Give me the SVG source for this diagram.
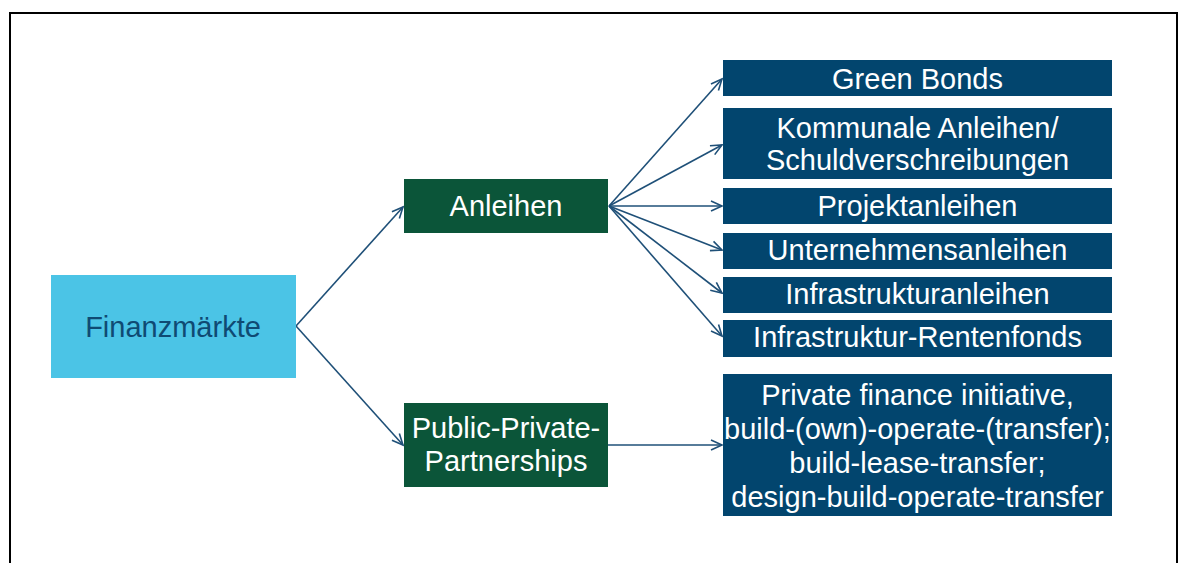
<svg xmlns="http://www.w3.org/2000/svg" width="1184" height="563" viewBox="0 0 1184 563">
<defs>
<style>
.t{font-family:"Liberation Sans",Arial,sans-serif;font-size:29px;text-anchor:middle;fill:#ffffff}
.blue{fill:#02456e}
.green{fill:#0b5539}
.c{fill:none;stroke:#1f5078;stroke-width:1.6}
</style>
<marker id="ah" markerUnits="userSpaceOnUse" markerWidth="14" markerHeight="14" refX="12" refY="6" orient="auto" viewBox="0 0 14 12">
<path d="M1,1 L12,6 L1,11" fill="none" stroke="#1f5078" stroke-width="1.6"/>
</marker>
</defs>
<rect width="1184" height="563" fill="#ffffff"/>
<path d="M10,570 L10,13 L1177,13 L1177,570" fill="none" stroke="#000000" stroke-width="2"/>
<g id="connectors">
<line class="c" x1="296" y1="326" x2="403" y2="207" marker-end="url(#ah)"/>
<line class="c" x1="296" y1="326" x2="403" y2="445" marker-end="url(#ah)"/>
<line class="c" x1="609" y1="206" x2="722" y2="79" marker-end="url(#ah)"/>
<line class="c" x1="609" y1="206" x2="722" y2="145" marker-end="url(#ah)"/>
<line class="c" x1="609" y1="206" x2="722" y2="206" marker-end="url(#ah)"/>
<line class="c" x1="609" y1="206" x2="722" y2="250" marker-end="url(#ah)"/>
<line class="c" x1="609" y1="206" x2="722" y2="293" marker-end="url(#ah)"/>
<line class="c" x1="609" y1="206" x2="722" y2="336" marker-end="url(#ah)"/>
<line class="c" x1="608" y1="445" x2="722" y2="445" marker-end="url(#ah)"/>
</g>
<g id="finanzmaerkte">
<rect x="51" y="275" width="245" height="103" fill="#4bc4e6"/>
<text class="t" x="173" y="337" style="fill:#0f4a73">Finanzmärkte</text>
</g>
<g id="anleihen">
<rect class="green" x="404" y="179" width="204" height="54"/>
<text class="t" x="506" y="216">Anleihen</text>
</g>
<g id="ppp">
<rect class="green" x="404" y="403" width="204" height="84"/>
<text class="t" x="506" y="438">Public-Private-</text>
<text class="t" x="506" y="471">Partnerships</text>
</g>
<g id="green-bonds">
<rect class="blue" x="723" y="60" width="389" height="36"/>
<text class="t" x="917.5" y="89">Green Bonds</text>
</g>
<g id="kommunale">
<rect class="blue" x="723" y="108" width="389" height="71"/>
<text class="t" x="917.5" y="138">Kommunale Anleihen/</text>
<text class="t" x="917.5" y="170">Schuldverschreibungen</text>
</g>
<g id="projektanleihen">
<rect class="blue" x="723" y="188" width="389" height="36"/>
<text class="t" x="917.5" y="216">Projektanleihen</text>
</g>
<g id="unternehmensanleihen">
<rect class="blue" x="723" y="233" width="389" height="36"/>
<text class="t" x="917.5" y="260">Unternehmensanleihen</text>
</g>
<g id="infrastrukturanleihen">
<rect class="blue" x="723" y="277" width="389" height="36"/>
<text class="t" x="917.5" y="304">Infrastrukturanleihen</text>
</g>
<g id="rentenfonds">
<rect class="blue" x="723" y="320" width="389" height="37"/>
<text class="t" x="917.5" y="347">Infrastruktur-Rentenfonds</text>
</g>
<g id="ppp-models">
<rect class="blue" x="723" y="374" width="389" height="142"/>
<text class="t" x="917.5" y="405">Private finance initiative,</text>
<text class="t" x="917.5" y="439">build-(own)-operate-(transfer);</text>
<text class="t" x="917.5" y="473">build-lease-transfer;</text>
<text class="t" x="917.5" y="507">design-build-operate-transfer</text>
</g>
</svg>
